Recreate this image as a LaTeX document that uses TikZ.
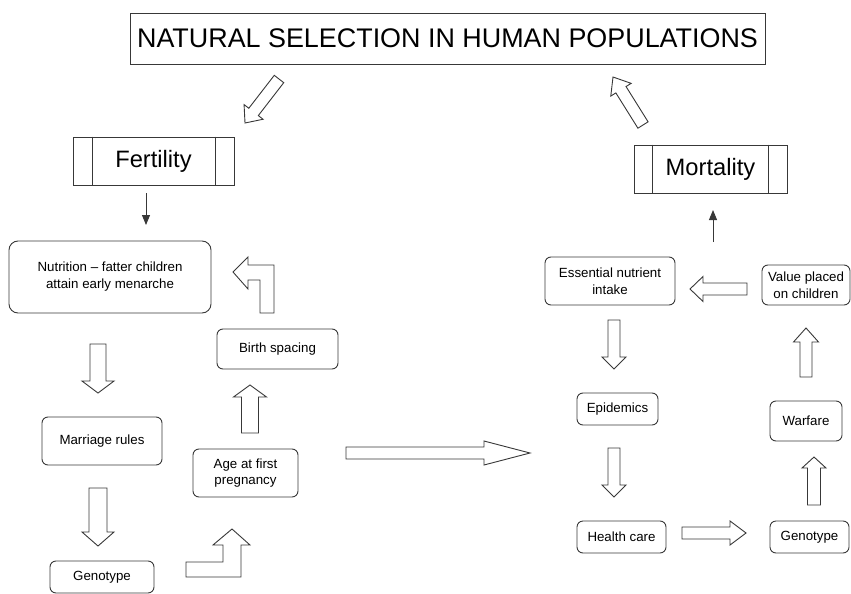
\documentclass[tikz,border=0pt]{standalone}
\usepackage{fontspec}
\setmainfont{Liberation Sans}
\usetikzlibrary{calc,arrows.meta}
\tikzset{
  ln/.style={draw=black!78, line width=0.9pt},
  box/.style={ln, rounded corners=6pt, inner sep=0pt, align=center,
    font=\fontsize{13.3}{16.5}\selectfont},
  bigbox/.style={ln, inner sep=0pt, align=center,
    font=\fontsize{23.7}{28}\selectfont},
  titlebox/.style={ln, inner sep=0pt, align=center,
    font=\fontsize{26.9}{30}\selectfont},
  arr/.style={ln, fill=white, line join=miter},
  thin/.style={ln, -{Triangle[length=10pt,width=8pt]}},
}
\newcommand\blkarrow[5]{%
  \coordinate (hb) at ($(#2)!#5!(#1)$);
  \draw[arr] ($(#1)!#3!90:(#2)$) -- ($(hb)!#3!90:(#2)$) -- ($(hb)!#4!90:(#2)$) -- (#2)
    -- ($(hb)!#4!-90:(#2)$) -- ($(hb)!#3!-90:(#2)$) -- ($(#1)!#3!-90:(#2)$) -- cycle;}
\begin{document}
\begin{tikzpicture}[x=1pt,y=-1pt]
\useasboundingbox (0,0) rectangle (851,594);
% title
\node[titlebox, minimum width=635pt, minimum height=51pt] (title) at (447.5,38.5) {NATURAL SELECTION IN HUMAN POPULATIONS};
% Fertility / Mortality
\node[bigbox, minimum width=161pt, minimum height=48pt] (fert) at (153.5,161) {Fertility};
\draw[ln] ([xshift=20pt]fert.north west) -- ([xshift=20pt]fert.south west);
\draw[ln] ([xshift=-19pt]fert.north east) -- ([xshift=-19pt]fert.south east);
\node[bigbox, minimum width=153pt, minimum height=48pt] (mort) at (710.5,169) {Mortality};
\draw[ln] ([xshift=19pt]mort.north west) -- ([xshift=19pt]mort.south west);
\draw[ln] ([xshift=-19pt]mort.north east) -- ([xshift=-19pt]mort.south east);
% left boxes
\node[box, rounded corners=9pt, minimum width=202pt, minimum height=72pt, font=\fontsize{13.3}{17}\selectfont] (nutr) at (110,277) {Nutrition – fatter children\\attain early menarche};
\node[box, minimum width=121pt, minimum height=40pt] (birth) at (277.5,349) {Birth spacing};
\node[box, minimum width=105pt, minimum height=48pt] (age) at (245.5,473) {Age at first\\pregnancy};
\node[box, minimum width=120pt, minimum height=48pt] (marr) at (102,441) {Marriage rules};
\node[box, minimum width=104pt, minimum height=32pt] (genL) at (102,577) {Genotype};
% right boxes
\node[box, minimum width=130pt, minimum height=48pt] (ess) at (610,281) {Essential nutrient\\intake};
\node[box, minimum width=88pt, minimum height=40pt] (value) at (806,285) {Value placed\\on children};
\node[box, minimum width=81pt, minimum height=32pt] (epi) at (617.5,409) {Epidemics};
\node[box, minimum width=89pt, minimum height=32pt] (health) at (621.5,537) {Health care};
\node[box, minimum width=72pt, minimum height=40pt] (war) at (806,421) {Warfare};
\node[box, minimum width=79pt, minimum height=32pt] (genR) at (809.5,537) {Genotype};
% arrow end points
\coordinate (t1) at (279,79);  \coordinate (h1) at (245,123);
\coordinate (t2) at (643,125); \coordinate (h2) at (613,77);
\coordinate (t3) at (98,344);  \coordinate (h3) at (98,393);
\coordinate (t4) at (98,488);  \coordinate (h4) at (98,546);
\coordinate (t5) at (250,433); \coordinate (h5) at (250,385);
\coordinate (t6) at (346,453); \coordinate (h6) at (530,453);
\coordinate (t7) at (614,320); \coordinate (h7) at (614,369);
\coordinate (t8) at (614,448); \coordinate (h8) at (614,497);
\coordinate (t9) at (682,533); \coordinate (h9) at (746,533);
\coordinate (t10) at (814,505); \coordinate (h10) at (814,457);
\coordinate (t11) at (806,377); \coordinate (h11) at (806,328);
\coordinate (t12) at (747,289); \coordinate (h12) at (690,289);
% block arrows
\blkarrow{t1}{h1}{6pt}{12pt}{14pt}
\blkarrow{t2}{h2}{6pt}{12pt}{15pt}
\blkarrow{t3}{h3}{8pt}{16pt}{12pt}
\blkarrow{t4}{h4}{9pt}{16pt}{14pt}
\blkarrow{t5}{h5}{8.5pt}{16.5pt}{12pt}
\blkarrow{t6}{h6}{6pt}{12pt}{46pt}
\blkarrow{t7}{h7}{6pt}{12pt}{12pt}
\blkarrow{t8}{h8}{6pt}{12pt}{12pt}
\blkarrow{t9}{h9}{6pt}{12pt}{16pt}
\blkarrow{t10}{h10}{6.5pt}{12pt}{11pt}
\blkarrow{t11}{h11}{6pt}{12.5pt}{14pt}
\blkarrow{t12}{h12}{6pt}{12.5pt}{13pt}
% bent arrows
\draw[arr] (233,272) -- (248,257) -- (248,265) -- (274,265) -- (274,313) -- (260,313)
  -- (260,280) -- (248,280) -- (248,289) -- cycle;
\draw[arr] (232,529) -- (250,545) -- (241,545) -- (241,577) -- (186,577) -- (186,562)
  -- (223,562) -- (223,545) -- (213,545) -- cycle;
% thin arrows
\coordinate (f1) at (146,193); \coordinate (f2) at (146,225);
\coordinate (m1) at (713,242); \coordinate (m2) at (713,210);
\draw[thin] (f1) -- (f2);
\draw[thin] (m1) -- (m2);
\end{tikzpicture}
\end{document}
